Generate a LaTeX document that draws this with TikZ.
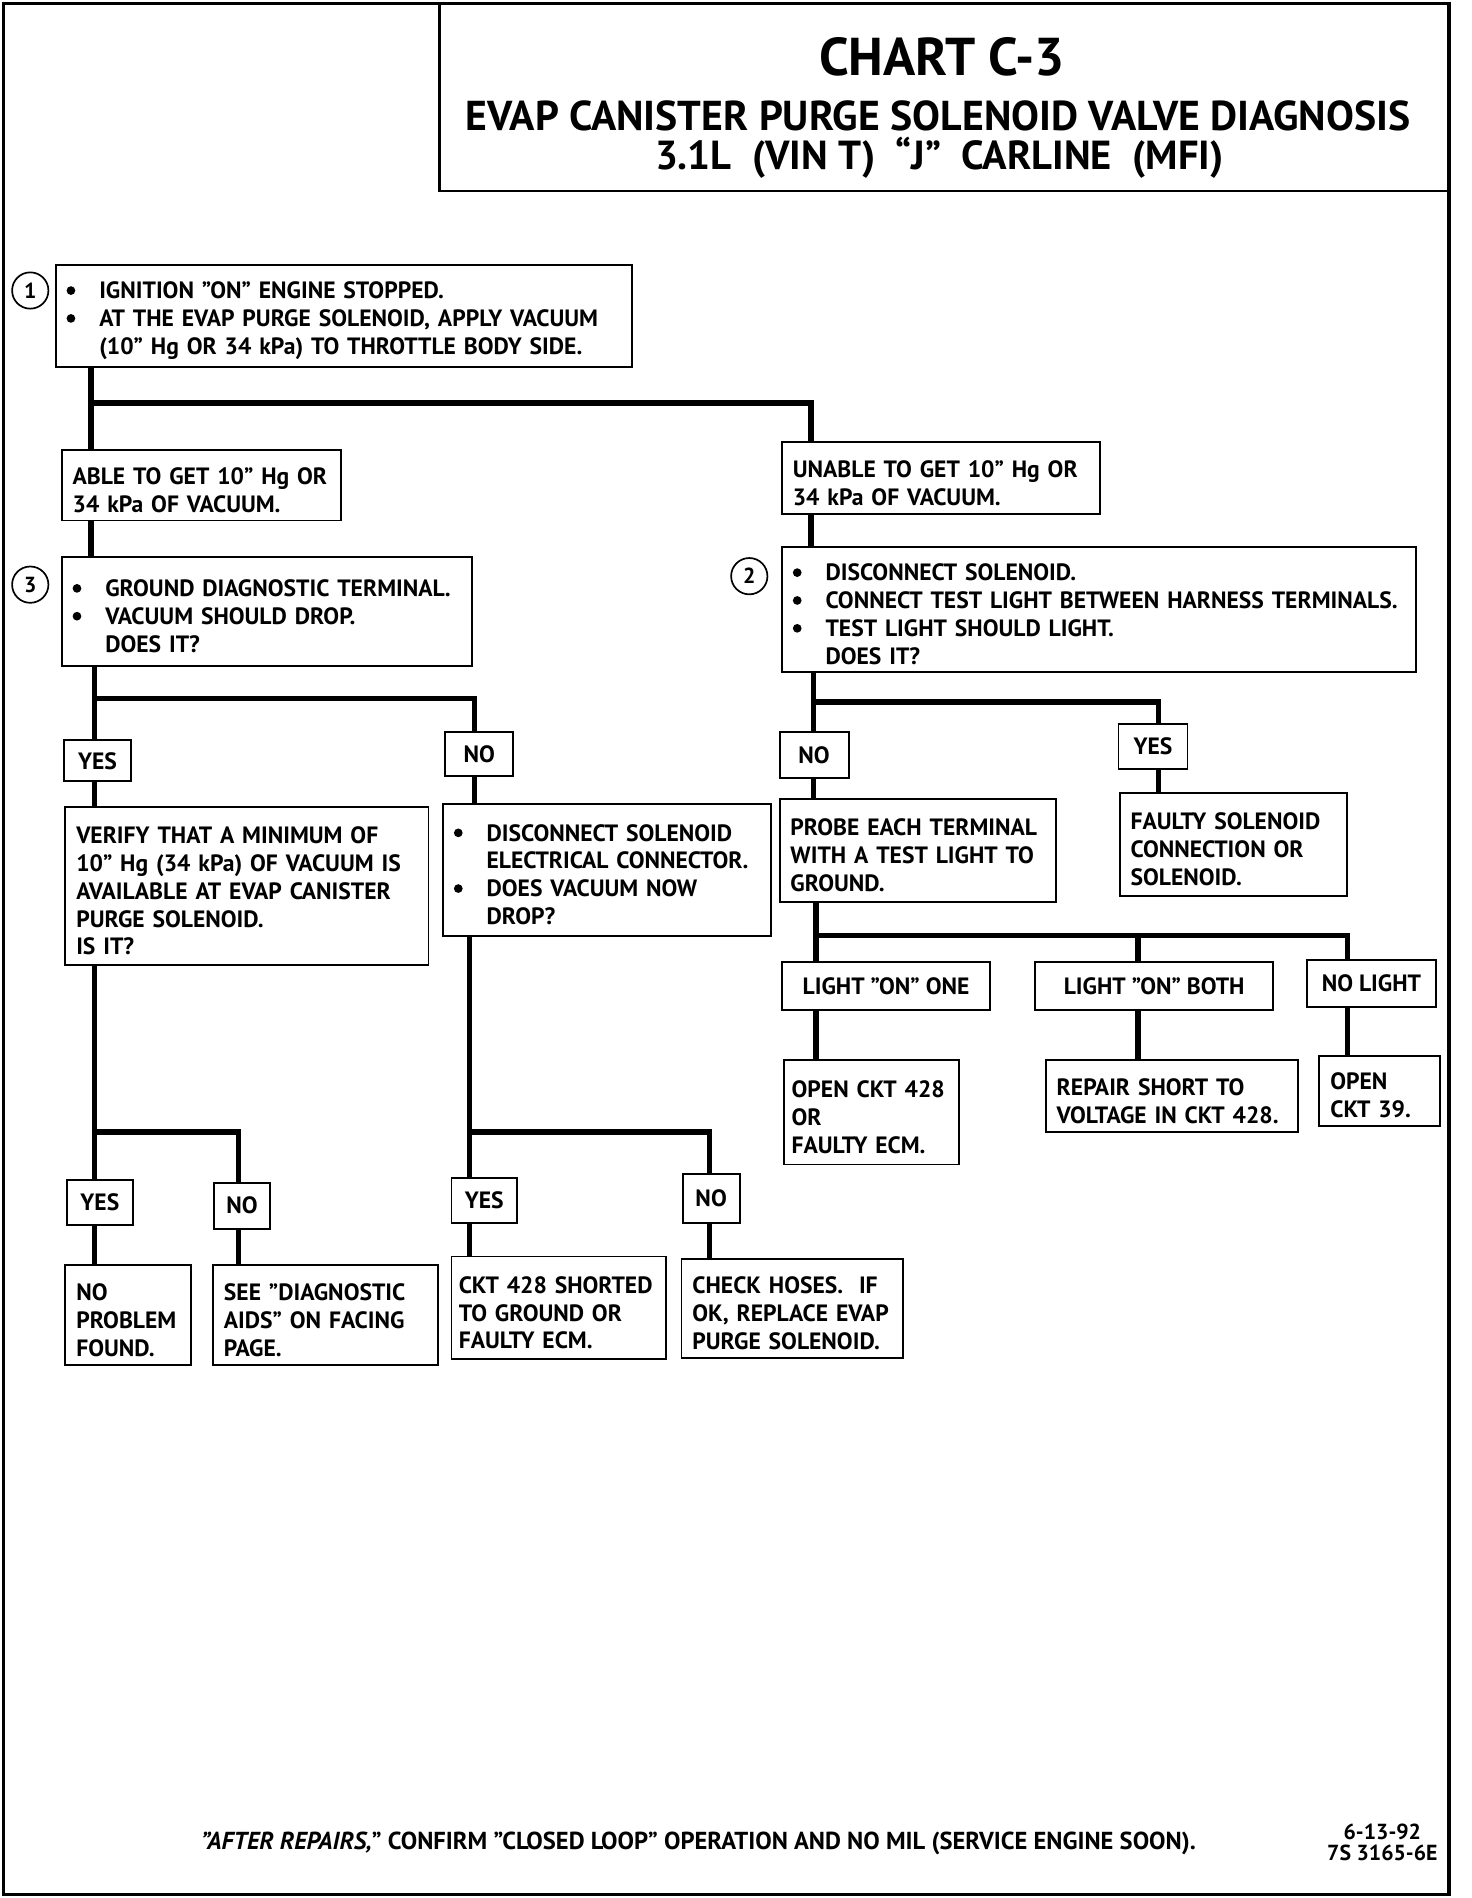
\documentclass[tikz,border=0pt]{standalone}
\usepackage{fontspec}
\setmainfont{PT Sans}
\newcommand{\bul}{\makebox[27pt][l]{\tikz[baseline={(0,-6.8pt)}]\fill (0,0) circle (3.6pt);}}
\newcommand{\ind}{\hspace*{27pt}}
\begin{document}
\begin{tikzpicture}[x=1pt,y=-1pt,
  every node/.style={font=\fontsize{19.5}{23}\selectfont\bfseries},
  box/.style={draw, line width=1.6pt, inner xsep=9pt, inner ysep=0pt, align=left,
    execute at begin node={\rule{0pt}{22pt}}},
  lbl/.style={draw, line width=1.6pt, inner sep=0pt, align=center},
  num/.style={draw, circle, line width=1.4pt, minimum size=30pt, inner sep=0pt, font=\fontsize{18}{20}\selectfont\bfseries},
  ttl/.style={inner sep=0pt},
  conn/.style={line width=4.5pt, line join=miter}]
\useasboundingbox (0,0) rectangle (1216,1568);
% frame and title
\draw[line width=3pt] (3,3) rectangle (1197,1565);
\node[draw, line width=2pt, minimum width=834pt, minimum height=155pt, anchor=north west, inner sep=0pt] (titlebox) at (362,2) {};
\node[ttl, font=\fontsize{44}{46}\selectfont\bfseries] (t1) at (778,47) {CHART C-3};
\node[ttl, font=\fontsize{34.5}{36}\selectfont\bfseries] (t2) at (775,96) {EVAP CANISTER PURGE SOLENOID VALVE DIAGNOSIS};
\node[ttl, font=\fontsize{33.5}{36}\selectfont\bfseries] (t3) at (776,130.5) {3.1L\ \ (VIN T)\ \ “J”\ \ CARLINE\ \ (MFI)};
% boxes
\node[num] (c1) at (25,240) {1};
\node[box, text width=458pt, minimum height=84pt] (box1) at (284,261) {\bul IGNITION "ON" ENGINE STOPPED.\\ \bul AT THE EVAP PURGE SOLENOID, APPLY VACUUM\\ \ind(10” Hg OR 34 kPa) TO THROTTLE BODY SIDE.};
\node[box, text width=213pt, minimum height=58pt] (able) at (166.5,401) {ABLE TO GET 10” Hg OR\\ 34 kPa OF VACUUM.};
\node[box, text width=245pt, minimum height=60pt] (unable) at (777.5,395) {UNABLE TO GET 10” Hg OR\\ 34 kPa OF VACUUM.};
\node[num] (c3) at (25,483) {3};
\node[box, text width=321pt, minimum height=90pt] (box3) at (220.5,505) {\bul GROUND DIAGNOSTIC TERMINAL.\\ \bul VACUUM SHOULD DROP.\\ \ind DOES IT?};
\node[num] (c2) at (619,476) {2};
\node[box, text width=506pt, minimum height=103pt] (box2) at (908,503.5) {\bul DISCONNECT SOLENOID.\\ \bul CONNECT TEST LIGHT BETWEEN HARNESS TERMINALS.\\ \bul TEST LIGHT SHOULD LIGHT.\\ \ind DOES IT?};
\node[lbl, minimum width=55pt, minimum height=34pt] (yes1) at (80.5,628.5) {YES};
\node[lbl, minimum width=56pt, minimum height=36pt] (no1) at (396,623) {NO};
\node[box, text width=282pt, minimum height=130pt] (verify) at (204,732) {VERIFY THAT A MINIMUM OF\\ 10” Hg (34 kPa) OF VACUUM IS\\ AVAILABLE AT EVAP CANISTER\\ PURGE SOLENOID.\\ IS IT?};
\node[box, text width=253pt, minimum height=109pt] (disc) at (501.5,718.5) {\bul DISCONNECT SOLENOID\\ \ind ELECTRICAL CONNECTOR.\\ \bul DOES VACUUM NOW\\ \ind DROP?};
\node[lbl, minimum width=57pt, minimum height=38pt] (no2) at (672.5,624) {NO};
\node[lbl, minimum width=57pt, minimum height=37pt] (yes2) at (952.5,616.5) {YES};
\node[box, text width=210pt, minimum height=85pt] (probe) at (758,702.5) {PROBE EACH TERMINAL\\ WITH A TEST LIGHT TO\\ GROUND.};
\node[box, text width=170pt, minimum height=85pt] (faulty) at (1019,697.5) {FAULTY SOLENOID\\ CONNECTION OR\\ SOLENOID.};
\node[lbl, minimum width=172pt, minimum height=39pt] (one) at (732,814.5) {LIGHT "ON" ONE};
\node[lbl, minimum width=197pt, minimum height=39pt] (both) at (953.5,814.5) {LIGHT "ON" BOTH};
\node[lbl, minimum width=106pt, minimum height=39pt] (nolight) at (1133,812.5) {NO LIGHT};
\node[box, inner xsep=6pt, text width=132pt, minimum height=86pt] (open428) at (720,919) {OPEN CKT 428\\ OR\\ FAULTY ECM.};
\node[box, text width=190pt, minimum height=59pt] (repair) at (968,905.5) {REPAIR SHORT TO\\ VOLTAGE IN CKT 428.};
\node[box, text width=82pt, minimum height=58pt] (open39) at (1140,901) {OPEN\\ CKT 39.};
\node[lbl, minimum width=55pt, minimum height=37pt] (yes3) at (82.5,993.5) {YES};
\node[lbl, minimum width=46pt, minimum height=38pt] (no3) at (200,996) {NO};
\node[lbl, minimum width=54pt, minimum height=37pt] (yes4) at (400,991.5) {YES};
\node[lbl, minimum width=47pt, minimum height=40pt] (no4) at (587.5,990) {NO};
\node[box, text width=86pt, minimum height=83pt] (noprob) at (106,1086.5) {NO\\ PROBLEM\\ FOUND.};
\node[box, text width=168pt, minimum height=83pt] (seediag) at (269,1086.5) {SEE "DIAGNOSTIC\\ AIDS" ON FACING\\ PAGE.};
\node[box, inner xsep=6pt, text width=165pt, minimum height=85pt] (ckt428) at (461.5,1080.5) {CKT 428 SHORTED\\ TO GROUND OR\\ FAULTY ECM.};
\node[box, text width=165pt, minimum height=82pt] (check) at (654.5,1081) {CHECK HOSES.\ \ IF\\ OK, REPLACE EVAP\\ PURGE SOLENOID.};
% footer
\node[font=\fontsize{20.3}{23}\selectfont\bfseries] (foot) at (577,1523) {\textit{"AFTER REPAIRS,}" CONFIRM "CLOSED LOOP" OPERATION AND NO MIL (SERVICE ENGINE SOON).};
\node[font=\fontsize{18}{18}\selectfont\bfseries, align=center] (code) at (1142,1522) {6-13-92\\ 7S 3165-6E};
% junctions
\coordinate (j1) at (75,333); \coordinate (j1r) at (670,333);
\coordinate (j2) at (78,577); \coordinate (j2r) at (392,577);
\coordinate (j3) at (672,580); \coordinate (j3r) at (957,580);
\coordinate (j4) at (674,773); \coordinate (j4m) at (940,773); \coordinate (j4r) at (1113,773);
\coordinate (j5) at (78,935); \coordinate (j5r) at (197,935);
\coordinate (j6) at (388,935); \coordinate (j6r) at (586,935);
% connectors
\draw[conn] (box1.south -| j1) -- (able.north -| j1);
\draw[conn] (j1) -- (j1r) -- (unable.north -| j1r);
\draw[conn] (able.south -| j1) -- (box3.north -| j1);
\draw[conn] (unable.south -| j1r) -- (box2.north -| j1r);
\draw[conn] (box3.south -| j2) -- (yes1.north -| j2);
\draw[conn] (j2) -- (j2r) -- (no1.north -| j2r);
\draw[conn] (yes1.south -| j2) -- (verify.north -| j2);
\draw[conn] (no1.south -| j2r) -- (disc.north -| j2r);
\draw[conn] (box2.south -| j3) -- (no2.north -| j3);
\draw[conn] (j3) -- (j3r) -- (yes2.north -| j3r);
\draw[conn] (no2.south -| j3) -- (probe.north -| j3);
\draw[conn] (yes2.south -| j3r) -- (faulty.north -| j3r);
\draw[conn] (probe.south -| j4) -- (one.north -| j4);
\draw[conn] (j4) -- (j4r) -- (nolight.north -| j4r);
\draw[conn] (j4m) -- (both.north -| j4m);
\draw[conn] (one.south -| j4) -- (open428.north -| j4);
\draw[conn] (both.south -| j4m) -- (repair.north -| j4m);
\draw[conn] (nolight.south -| j4r) -- (open39.north -| j4r);
\draw[conn] (verify.south -| j5) -- (yes3.north -| j5);
\draw[conn] (j5) -- (j5r) -- (no3.north -| j5r);
\draw[conn] (yes3.south -| j5) -- (noprob.north -| j5);
\draw[conn] (no3.south -| j5r) -- (seediag.north -| j5r);
\draw[conn] (disc.south -| j6) -- (yes4.north -| j6);
\draw[conn] (j6) -- (j6r) -- (no4.north -| j6r);
\draw[conn] (yes4.south -| j6) -- (ckt428.north -| j6);
\draw[conn] (no4.south -| j6r) -- (check.north -| j6r);
\end{tikzpicture}
\end{document}
